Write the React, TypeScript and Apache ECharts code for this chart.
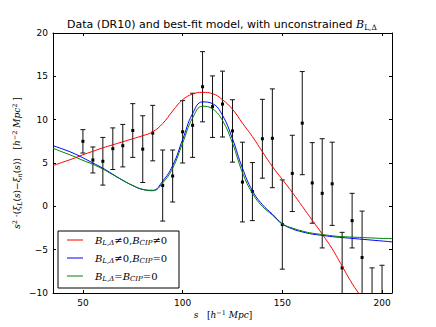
import { useEffect, useRef } from "react";
import * as echarts from "echarts";

// Measured data points (s in h^-1 Mpc)
const dataS = [50, 55, 60, 65, 70, 75, 80, 85, 90, 95, 100, 105, 110, 115, 120, 125, 130, 135, 140, 145, 150, 155, 160, 165, 170, 175, 180, 185, 190, 195, 200];
const dataValues = [7.5, 5.35, 5.2, 6.65, 7.0, 8.75, 6.6, 8.45, 2.4, 3.5, 8.6, 9.35, 13.8, 11.5, 11.8, 8.7, 2.8, 1.7, 7.8, 7.85, -2.1, 3.8, 9.6, 2.7, 1.5, 2.6, -7.1, -1.65, -5.9, -11.5, -11.0];
const dataErrors = [1.35, 1.5, 2.75, 2.4, 2.45, 3.1, 3.85, 3.2, 4.1, 3.0, 3.6, 3.7, 4.05, 3.55, 3.8, 3.6, 4.6, 3.35, 4.55, 5.7, 5.15, 4.4, 5.95, 4.65, 6.3, 4.8, 4.1, 3.15, 5.35, 4.4, 4.2];

// Model curves
const modelS = [35, 40, 45, 50, 55, 60, 65, 70, 75, 80, 85, 90, 95, 100, 105, 110, 115, 120, 125, 130, 135, 140, 145, 150, 155, 160, 165, 170, 175, 180, 185, 190, 195, 200, 205];
const modelRed = [4.7, 5.1, 5.5, 5.95, 6.35, 6.75, 7.1, 7.45, 7.8, 8.15, 8.6, 9.55, 11.0, 12.3, 12.95, 13.15, 13.0, 12.3, 11.2, 9.6, 8.05, 6.3, 4.6, 3.1, 1.6, 0.0, -1.6, -3.2, -4.9, -6.9, -8.9, -10.6, -12.3, -14.0, -15.6];
const modelBlue = [7.0, 6.6, 6.15, 5.6, 5.0, 4.4, 3.7, 3.0, 2.4, 1.95, 1.85, 2.9, 4.7, 7.7, 10.7, 12.05, 11.85, 10.5, 7.8, 4.4, 1.8, 0.2, -0.9, -2.0, -2.6, -2.95, -3.2, -3.35, -3.5, -3.6, -3.7, -3.8, -3.9, -4.0, -4.1];
const modelGreen = [6.7, 6.25, 5.8, 5.3, 4.85, 4.3, 3.65, 3.0, 2.4, 1.95, 1.8, 2.7, 4.4, 7.3, 10.2, 11.55, 11.25, 9.9, 7.3, 3.9, 1.5, 0.0, -1.0, -2.05, -2.5, -2.85, -3.1, -3.25, -3.4, -3.5, -3.55, -3.6, -3.65, -3.7, -3.72];

const xTicks = [50, 100, 150, 200];
const legendLabels = [
  "{b|B}{s|L,Δ}{n|≠0,}{b|B}{s|CIP}{n|≠0}",
  "{b|B}{s|L,Δ}{n|≠0,}{b|B}{s|CIP}{n|=0}",
  "{b|B}{s|L,Δ}{n|=}{b|B}{s|CIP}{n|=0}",
];
const seriesColors = ["#ff0000", "#0000ff", "#008000"];

const SERIF = "DejaVu Serif";
const SANS = "DejaVu Sans";

export default function App() {
  const ref = useRef<HTMLDivElement>(null);
  useEffect(() => {
    const chart = echarts.init(ref.current!, null, { renderer: "svg" });
    const axisCommon = {
      type: "value" as const,
      axisLine: { show: true, onZero: false, lineStyle: { color: "#000", width: 1 } },
      axisTick: { show: true, inside: true, length: 3, lineStyle: { color: "#000", width: 1 } },
      splitLine: { show: false },
    };
    const lineSeries = [modelRed, modelBlue, modelGreen].map((arr, k) => ({
      type: "line" as const,
      data: modelS.map((s, i) => [s, arr[i]]),
      symbol: "none",
      smooth: 0.45,
      lineStyle: { color: seriesColors[k], width: 1 },
      itemStyle: { color: seriesColors[k] },
      z: 3 + k,
      clip: true,
    }));
    const legendRich = {
      b: { fontFamily: SERIF, fontStyle: "italic", fontSize: 10, color: "#000" },
      s: { fontFamily: SERIF, fontStyle: "italic", fontSize: 7, color: "#000", padding: [6, 0, 0, 0] },
      n: { fontFamily: SERIF, fontSize: 10, color: "#000" },
    };
    const legendChildren: any[] = [
      { type: "rect", shape: { x: 0, y: 0, width: 121, height: 57 }, style: { fill: "#fff", stroke: "#000", lineWidth: 1 } },
    ];
    const rowY = [9, 27, 45];
    legendLabels.forEach((lab, k) => {
      legendChildren.push({
        type: "line",
        shape: { x1: 9, y1: rowY[k], x2: 25, y2: rowY[k] },
        style: { stroke: seriesColors[k], lineWidth: 1 },
      });
      legendChildren.push({
        type: "text",
        x: 37,
        y: rowY[k],
        style: { text: lab, rich: legendRich, verticalAlign: "middle", align: "left" },
      });
    });

    chart.setOption({
      animation: false,
      backgroundColor: "#fff",
      grid: { left: 53, right: 44, top: 33, bottom: 34 },
      xAxis: [
        {
          ...axisCommon,
          position: "bottom",
          min: 35,
          max: 205,
          axisTick: { ...axisCommon.axisTick, customValues: xTicks },
          axisLabel: { customValues: xTicks, color: "#000", fontSize: 9, fontFamily: SANS, margin: 5 },
        },
        {
          ...axisCommon,
          position: "top",
          min: 35,
          max: 205,
          axisTick: { ...axisCommon.axisTick, customValues: xTicks },
          axisLabel: { show: false },
        },
      ],
      yAxis: [
        {
          ...axisCommon,
          position: "left",
          min: -10,
          max: 20,
          interval: 5,
          axisLabel: {
            color: "#000",
            fontSize: 9,
            fontFamily: SANS,
            margin: 5,
            formatter: (v: number) => String(v).replace("-", "\u2212"),
          },
        },
        {
          ...axisCommon,
          position: "right",
          min: -10,
          max: 20,
          interval: 5,
          axisLabel: { show: false },
        },
      ],
      series: [
        {
          type: "custom",
          name: "data",
          clip: true,
          z: 2,
          data: dataS.map((s, i) => [s, dataValues[i], dataErrors[i]]),
          renderItem: (params: any, api: any) => {
            const x = api.value(0);
            const y = api.value(1);
            const e = api.value(2);
            const top = api.coord([x, y + e]);
            const bot = api.coord([x, y - e]);
            const c = api.coord([x, y]);
            const cap = 2.5;
            const st = { stroke: "#111", lineWidth: 1 };
            return {
              type: "group",
              children: [
                { type: "line", shape: { x1: top[0], y1: top[1], x2: bot[0], y2: bot[1] }, style: st },
                { type: "line", shape: { x1: top[0] - cap, y1: top[1], x2: top[0] + cap, y2: top[1] }, style: st },
                { type: "line", shape: { x1: bot[0] - cap, y1: bot[1], x2: bot[0] + cap, y2: bot[1] }, style: st },
                { type: "rect", shape: { x: c[0] - 1.5, y: c[1] - 1.5, width: 3, height: 3 }, style: { fill: "#000" } },
              ],
            };
          },
        },
        ...lineSeries,
      ],
      graphic: [
        {
          type: "text",
          x: 222,
          y: 24.5,
          z: 100,
          style: {
            text: "{t|Data (DR10) and best-fit model, with unconstrained }{b|B}{s|L,Δ}",
            align: "center",
            verticalAlign: "middle",
            rich: {
              t: { fontFamily: SANS, fontSize: 11, color: "#000" },
              b: { fontFamily: SERIF, fontStyle: "italic", fontSize: 11, color: "#000" },
              s: { fontFamily: SERIF, fontSize: 7.5, color: "#000", padding: [6, 0, 0, 0] },
            },
          },
        },
        {
          type: "text",
          x: 17,
          y: 163,
          rotation: Math.PI / 2,
          z: 100,
          style: {
            text: "{i|s}{sup|2}{n| ·(}{i|ξ}{sub|L}{n|(}{i|s}{n|)−}{i|ξ}{sub|n}{n|(}{i|s}{n|))   [}{i|h}{sup|−2}{i| Mpc}{sup|2}{n| ]}",
            align: "center",
            verticalAlign: "middle",
            rich: {
              i: { fontFamily: SERIF, fontStyle: "italic", fontSize: 9, color: "#000" },
              n: { fontFamily: SERIF, fontSize: 9, color: "#000" },
              sub: { fontFamily: SERIF, fontStyle: "italic", fontSize: 6.5, color: "#000", padding: [5, 0, 0, 0] },
              sup: { fontFamily: SERIF, fontSize: 6.5, color: "#000", padding: [0, 0, 5, 0] },
            },
          },
        },
        {
          type: "text",
          x: 223,
          y: 315,
          z: 100,
          style: {
            text: "{i|s}{n|   [}{i|h}{sup|−1}{i| Mpc}{n|]}",
            align: "center",
            verticalAlign: "middle",
            rich: {
              i: { fontFamily: SERIF, fontStyle: "italic", fontSize: 9, color: "#000" },
              n: { fontFamily: SERIF, fontSize: 9, color: "#000" },
              sup: { fontFamily: SERIF, fontSize: 6.5, color: "#000", padding: [0, 0, 5, 0] },
            },
          },
        },
        {
          type: "group",
          x: 58,
          y: 231,
          z: 100,
          children: legendChildren,
        },
      ],
    });
    return () => chart.dispose();
  }, []);
  return <div ref={ref} style={{ position: "fixed", left: 0, top: 0, width: 436, height: 327 }} />;
}
